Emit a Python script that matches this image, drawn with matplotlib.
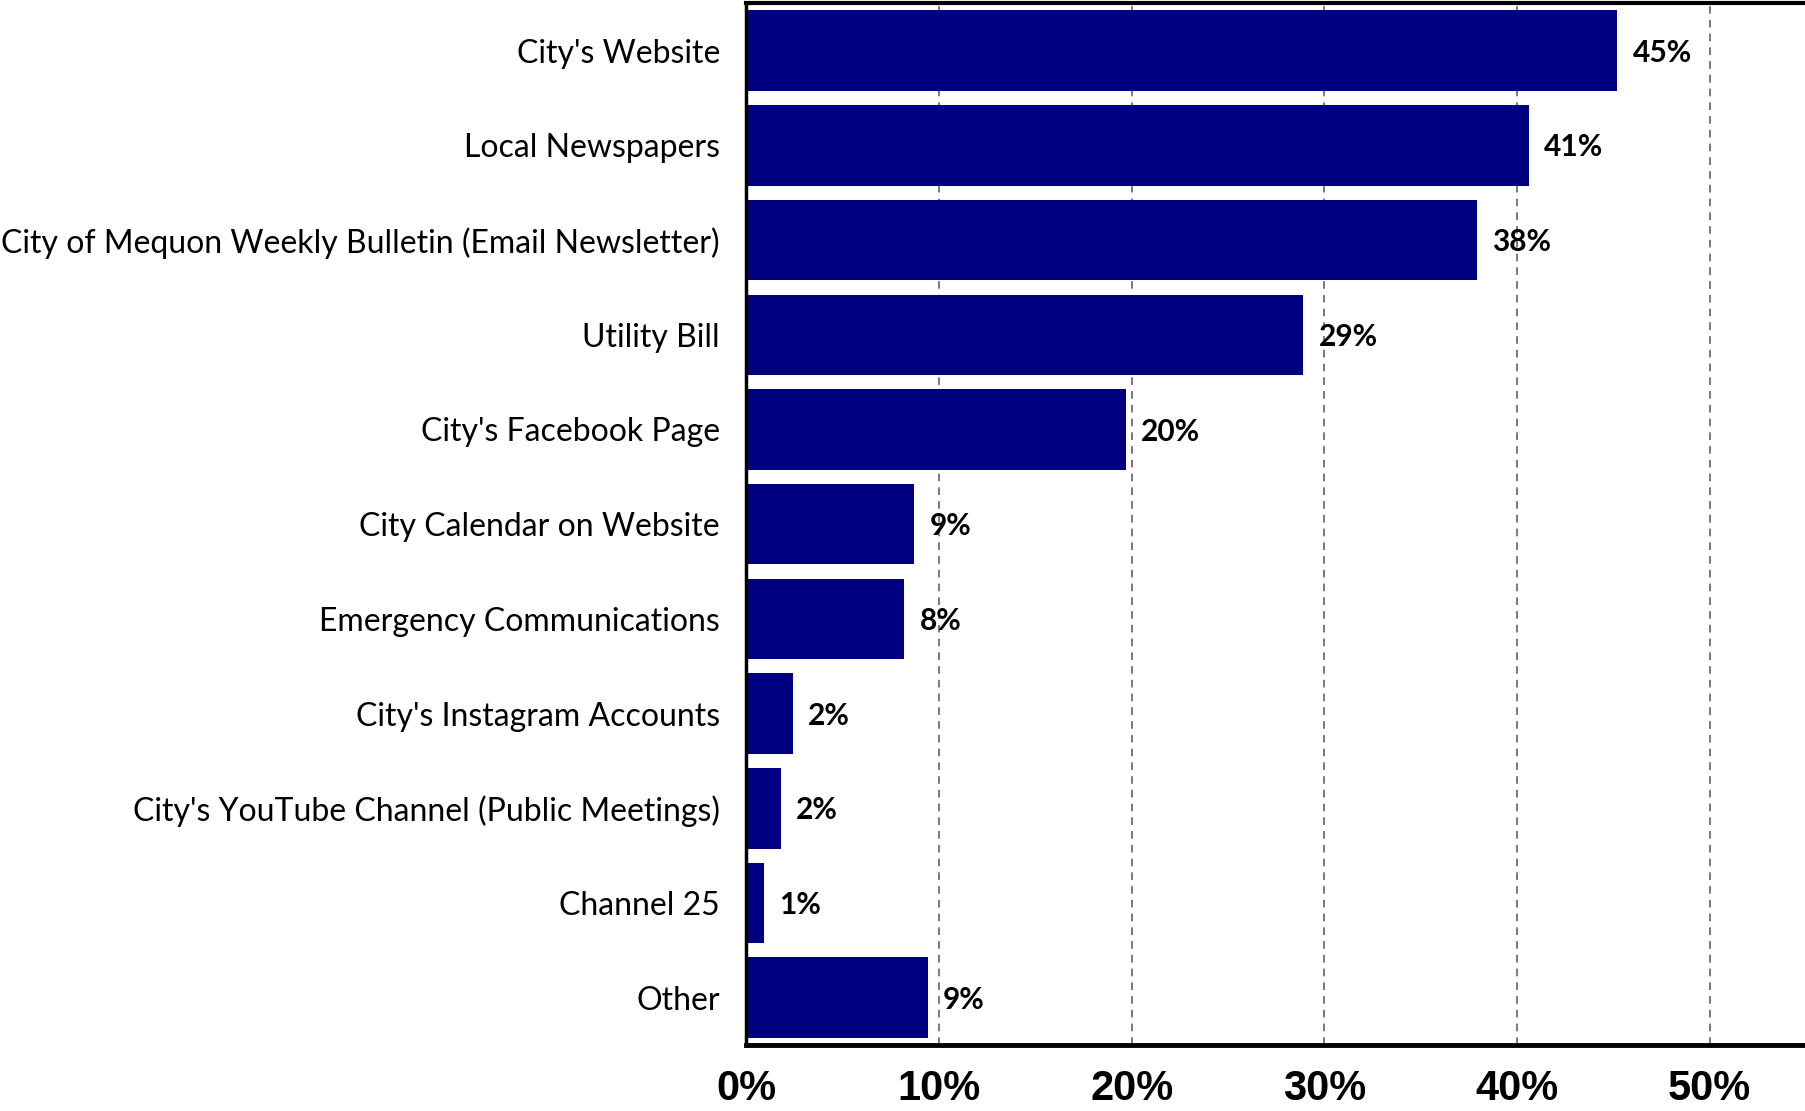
import matplotlib
matplotlib.use("Agg")
import matplotlib.pyplot as plt
from matplotlib.ticker import FuncFormatter

categories = [
    "City's Website",
    "Local Newspapers",
    "City of Mequon Weekly Bulletin (Email Newsletter)",
    "Utility Bill",
    "City's Facebook Page",
    "City Calendar on Website",
    "Emergency Communications",
    "City's Instagram Accounts",
    "City's YouTube Channel (Public Meetings)",
    "Channel 25",
    "Other",
]
values = [45.2, 40.6, 37.9, 28.9, 19.7, 8.7, 8.2, 2.4, 1.8, 0.9, 9.4]
xticks = [0, 10, 20, 30, 40, 50]

bar_color = "#000080"
label_font = ["Lato", "DejaVu Sans"]
tick_font = ["Liberation Sans Narrow", "Liberation Sans", "DejaVu Sans"]

fig = plt.figure(figsize=(18.06, 11.11), dpi=100)
ax = fig.add_axes([0.4133, 0.0594, 0.5867, 0.9376])

ypos = list(range(len(categories)))
ax.barh(ypos, values, height=0.85, color=bar_color, zorder=2)

for y, v in zip(ypos, values):
    ax.annotate(f"{round(v):.0f}%", xy=(v, y), xytext=(11, -1.5),
                textcoords="offset points", va="center", ha="left",
                fontsize=21.5, fontweight="bold", family=label_font,
                color="black", zorder=3)

ax.set_xlim(0, 55)
ax.set_ylim(10.5, -0.5)
ax.set_yticks(ypos)
ax.set_yticklabels(categories, family=label_font, fontsize=23)
ax.set_xticks(xticks)
ax.xaxis.set_major_formatter(FuncFormatter(lambda x, p: f"{x:.0f}%"))
for lbl in ax.get_xticklabels():
    lbl.set_family(tick_font)
    lbl.set_fontsize(30)
    lbl.set_fontweight("bold")

ax.tick_params(axis="both", length=0)
ax.tick_params(axis="y", pad=19)
ax.tick_params(axis="x", pad=17)

ax.xaxis.grid(True, linestyle=(0, (5, 4)), color="#555555", linewidth=1.1, zorder=0)
ax.set_axisbelow(True)

ax.spines["right"].set_visible(False)
ax.spines["top"].set_linewidth(3)
ax.spines["bottom"].set_linewidth(3.5)
ax.spines["left"].set_linewidth(2.5)
for s in ("top", "bottom", "left"):
    ax.spines[s].set_color("black")

fig.savefig("out.png", dpi=100)
